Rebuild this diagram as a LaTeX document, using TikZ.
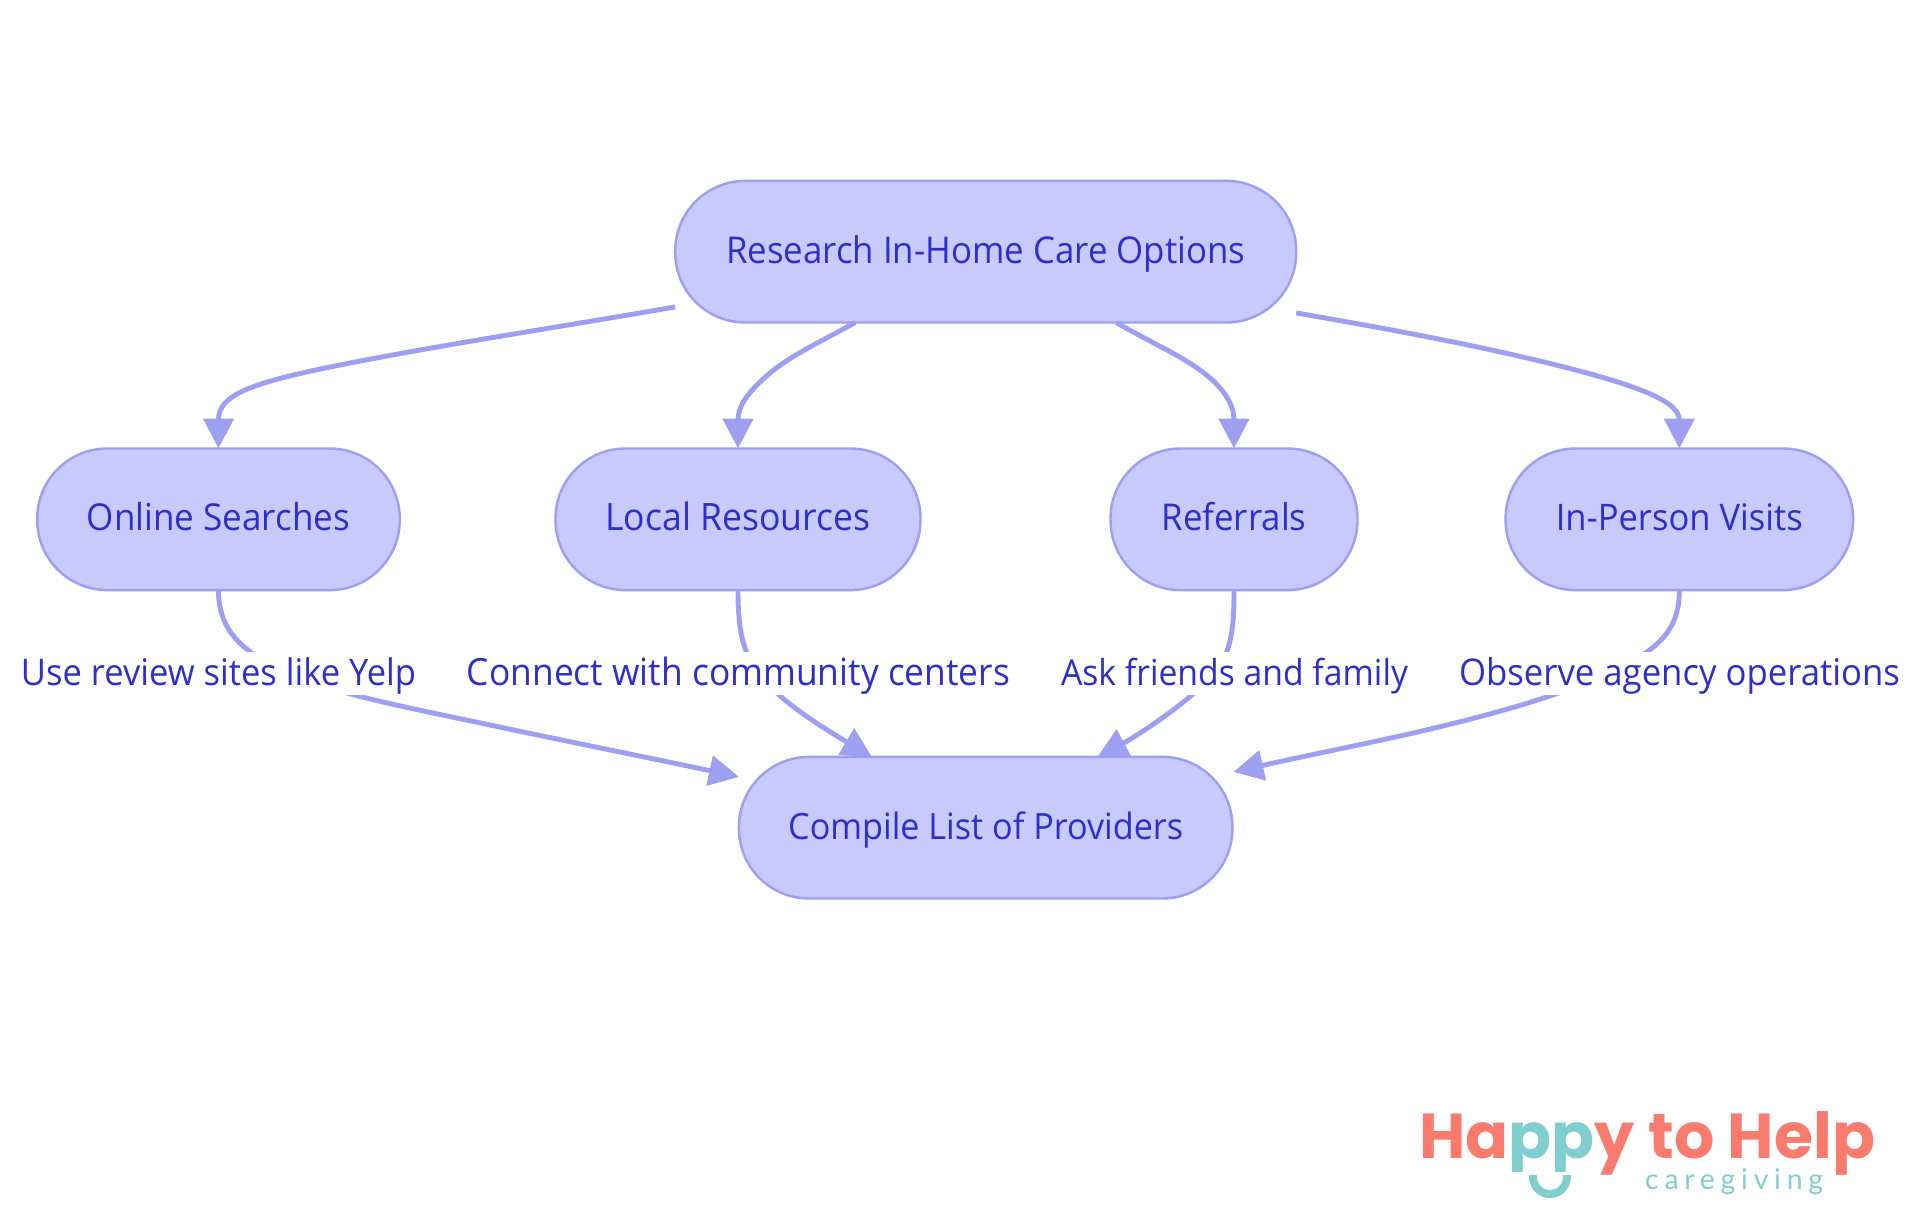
\documentclass[tikz,border=0pt]{standalone}
\usepackage{fontspec}
\usepackage{graphicx}
\setmainfont{Open Sans}
\newfontfamily\logofont{Poppins}[UprightFont=* Bold]
\newfontfamily\taglinefont{Lato}[LetterSpace=20]
\usetikzlibrary{arrows.meta,calc}
\definecolor{nodefill}{HTML}{C8CAFD}
\definecolor{nodeline}{HTML}{9D9FF1}
\definecolor{inktext}{HTML}{2C2FCC}
\definecolor{coral}{HTML}{F97B6D}
\definecolor{teal}{HTML}{80CFCE}
\newcommand{\fitw}[2]{\scalebox{1}[1.06]{\resizebox{#1pt}{!}{\fontsize{34}{40}\selectfont #2}}}
\tikzset{
  flownode/.style={draw=nodeline,fill=nodefill,line width=2.45pt,rounded corners=70pt,outer sep=0pt,
    minimum height=141.6pt,inner sep=0pt,text=inktext,align=center,text height=33pt,text depth=10pt},
  edgelabel/.style={fill=white,text=inktext,inner sep=0pt,minimum height=41pt,text height=33pt,text depth=10pt},
  flowedge/.style={draw=nodeline,line width=4.9pt,-{Triangle[length=30pt,width=30pt]}},
}
\begin{document}
\begin{tikzpicture}[x=1pt,y=-1pt]
\useasboundingbox (0,0) rectangle (1920,1215);
\fill[white] (0,0) rectangle (1920,1215);
\node[flownode,minimum width=621pt] (root) at (985.7,251.7) {\fitw{519}{Research In-Home Care Options}};
\node[flownode,minimum width=362.5pt] (online) at (218.5,519.3) {\fitw{263}{Online Searches}};
\node[flownode,minimum width=365pt] (local) at (738,519.3) {\fitw{265}{Local Resources}};
\node[flownode,minimum width=247pt] (refer) at (1234,519.3) {\fitw{145}{Referrals}};
\node[flownode,minimum width=347.5pt] (visit) at (1679.3,519.3) {\fitw{247}{In-Person Visits}};
\node[flownode,minimum width=493.5pt] (compile) at (985.7,827.7) {\fitw{395}{Compile List of Providers}};

\draw[flowedge] ($(root.south west)+(0,-15.6)$) .. controls (560,327) and (440,345) .. (340,365)
  .. controls (250,383) and (218.5,395) .. (online.north);
\draw[flowedge] ($(root.south west)+(180,0)$) .. controls (820,342) and (790,356) .. (770,373)
  .. controls (750,390) and (738,405) .. (local.north);
\draw[flowedge] ($(root.south east)+(-180,0)$) .. controls (1150,342) and (1182,356) .. (1204,373)
  .. controls (1224,388.5) and (1234,405) .. (refer.north);
\draw[flowedge] ($(root.south east)+(0,-9.6)$) .. controls (1400,331) and (1480,346) .. (1560,366)
  .. controls (1640,386) and (1679.3,402) .. (visit.north);

\draw[flowedge] (online.south) .. controls (218.5,625) and (235,650) .. (290,674)
  .. controls (340,695) and (410,708) .. (490,725)
  .. controls (570,742) and (660,760) .. ($(compile.north west)+(0,20)$);
\draw[flowedge] (local.south) .. controls (738,640) and (745,665) .. (778,694)
  .. controls (800,714) and (835,735) .. ($(compile.north west)+(133,0)$);
\draw[flowedge] (refer.south) .. controls (1234,640) and (1230,665) .. (1193,694)
  .. controls (1170,714) and (1135,737) .. ($(compile.north east)+(-135,0)$);
\draw[flowedge] (visit.south) .. controls (1679.3,625) and (1665,645) .. (1620,668)
  .. controls (1560,697) and (1480,718) .. (1400,736)
  .. controls (1350,747) and (1300,757) .. ($(compile.north east)+(1,15)$);

\node[edgelabel] (l1) at (218.5,673.5) {\fitw{395}{Use review sites like Yelp}};
\node[edgelabel] (l2) at (738.5,673.5) {\fitw{543}{Connect with community centers}};
\node[edgelabel] (l3) at (1234.5,673.5) {\fitw{347}{Ask friends and family}};
\node[edgelabel] (l4) at (1679.5,673.5) {\fitw{441}{Observe agency operations}};

\node[anchor=base west,inner sep=0pt,font=\logofont\fontsize{60}{66}\selectfont] (logo) at (1419,1158)
  {\resizebox{456pt}{!}{\textcolor{coral}{Ha}\textcolor{teal}{pp}\textcolor{coral}{y to Help}}};
\fill[white] (1500,1172) rectangle (1582,1190);
\node[anchor=base west,inner sep=0pt,text=teal,font=\taglinefont\fontsize{28}{32}\selectfont] (tagline) at (1645,1189) {\resizebox{178pt}{!}{caregiving}};
\draw[teal,line width=8pt] (1533,1175) -- (1533,1177) arc[start angle=180,end angle=0,radius=17] -- (1567,1175);
\end{tikzpicture}
\end{document}
